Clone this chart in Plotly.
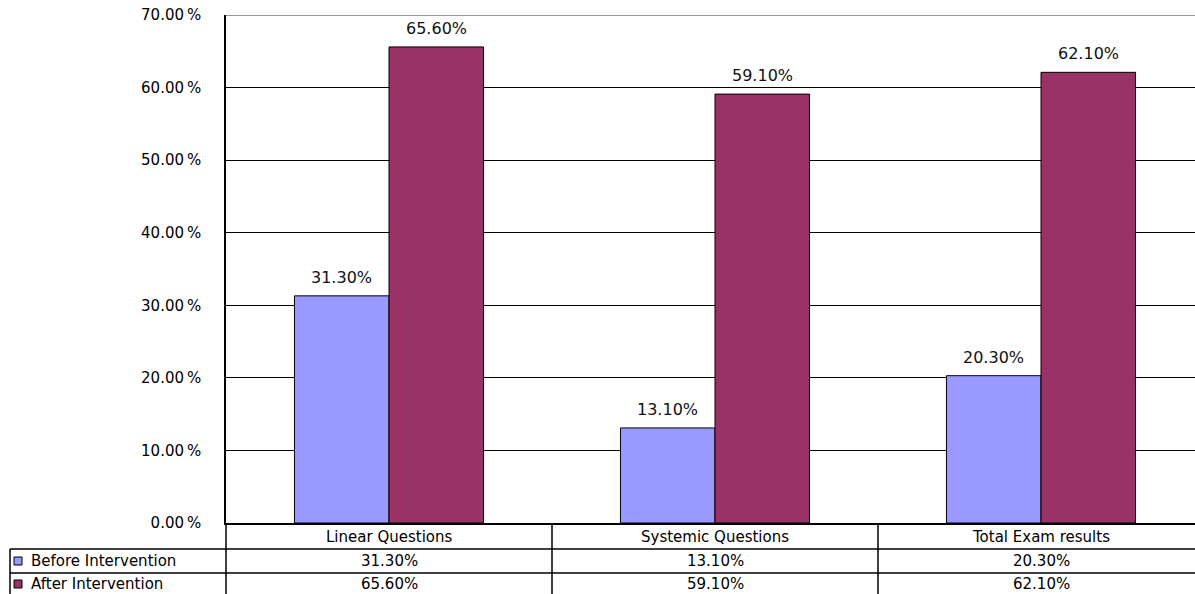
import plotly.graph_objects as go

categories = ["Linear Questions", "Systemic Questions", "Total Exam results"]
series_names = ["Before Intervention", "After Intervention"]
before = [31.3, 13.1, 20.3]
after = [65.6, 59.1, 62.1]
y_ticks = [0, 10, 20, 30, 40, 50, 60, 70]
y_tick_labels = [f"{v:.2f}\u2009%" for v in y_ticks]

colors = ["#9999FF", "#993366"]
FONT = "DejaVu Sans"

W, H = 1195, 594
PL, PT, PB = 226, 15, 523  # plot area in window pixels
ML, MT, MR = PL, PT, 0
MB = H - PB
PW = W - ML - MR
PH = H - MT - MB
cat_px = 326.0
xr = [-0.5, -0.5 + PW / cat_px]


def px(X):
    return (X - PL) / PW


def py(Y):
    return (PB - Y) / PH


def dx(xd):
    return (xd - xr[0]) / (xr[1] - xr[0])


xs = list(range(len(categories)))
fig = go.Figure()
annotations = []
for name, vals, col in zip(series_names, [before, after], colors):
    fig.add_trace(go.Bar(
        x=xs, y=vals, name=name,
        marker=dict(color=col, line=dict(color="black", width=1)),
        showlegend=False, hoverinfo="y",
    ))

# data labels above bars
bar_w = (1 - 0.42) / 2
for k, vals in enumerate([before, after]):
    for i, v in enumerate(vals):
        xc = i - bar_w / 2 + k * bar_w
        annotations.append(dict(x=xc, xref="x", y=v, yref="y", text=f"{v:.2f}%",
                                showarrow=False, yanchor="bottom", xanchor="center",
                                yshift=7,
                                font=dict(family=FONT, size=16, color="#111")))

shapes = []
line = dict(color="black", width=1.5)
shapes.append(dict(type="line", xref="paper", yref="y", x0=0, x1=1, y0=70, y1=70,
                   line=dict(color="#9a9a9a", width=2), layer="above"))
for Y in [549, 573]:
    shapes.append(dict(type="line", xref="paper", yref="paper",
                       x0=px(10), x1=1, y0=py(Y), y1=py(Y), line=line))
shapes.append(dict(type="line", xref="paper", yref="paper",
                   x0=px(10), x1=px(10), y0=py(549), y1=py(600), line=line))
for b in [-0.5] + [i + 0.5 for i in xs[:-1]]:
    shapes.append(dict(type="line", xref="paper", yref="paper",
                       x0=dx(b), x1=dx(b), y0=py(523), y1=py(600), line=line))

for i, c in enumerate(categories):
    annotations.append(dict(x=i, xref="x", y=py(536.5), yref="paper", text=c,
                            showarrow=False, yanchor="middle", xanchor="center",
                            font=dict(family=FONT, size=15, color="black")))
row_y = [561, 584]
for r, (name, vals, col) in enumerate(zip(series_names, [before, after], colors)):
    yc = row_y[r]
    for i, v in enumerate(vals):
        annotations.append(dict(x=i, xref="x", y=py(yc), yref="paper", text=f"{v:.2f}%",
                                showarrow=False, yanchor="middle", xanchor="center",
                                font=dict(family=FONT, size=15, color="black")))
    annotations.append(dict(x=px(29), xref="paper", y=py(yc), yref="paper", text=name,
                            showarrow=False, yanchor="middle", xanchor="left",
                            font=dict(family=FONT, size=15, color="black")))
    shapes.append(dict(type="rect", xref="paper", yref="paper",
                       x0=px(14), x1=px(22), y0=py(yc - 4), y1=py(yc + 4),
                       fillcolor=col, line=dict(color="black", width=1)))

fig.update_layout(
    width=W, height=H,
    margin=dict(l=ML, r=MR, t=MT, b=MB, pad=0),
    plot_bgcolor="white", paper_bgcolor="white",
    barmode="group", bargap=0.42, bargroupgap=0,
    shapes=shapes, annotations=annotations,
    xaxis=dict(range=xr, showticklabels=False, showgrid=False, zeroline=False,
               showline=True, linecolor="black", linewidth=1.5, fixedrange=True,
               automargin=False),
    yaxis=dict(range=[0, 70], tickvals=y_ticks, ticktext=y_tick_labels,
               showgrid=True, gridcolor="black", gridwidth=1, zeroline=False,
               showline=True, linecolor="black", linewidth=1.5, ticks="",
               ticklabelstandoff=20, ticklabeloverflow="allow", automargin=False,
               tickfont=dict(family=FONT, size=15, color="black")),
)

fig.write_html("out.html", config={"displayModeBar": False},
               post_script="document.body.style.margin='0';document.body.style.overflow='hidden';")
